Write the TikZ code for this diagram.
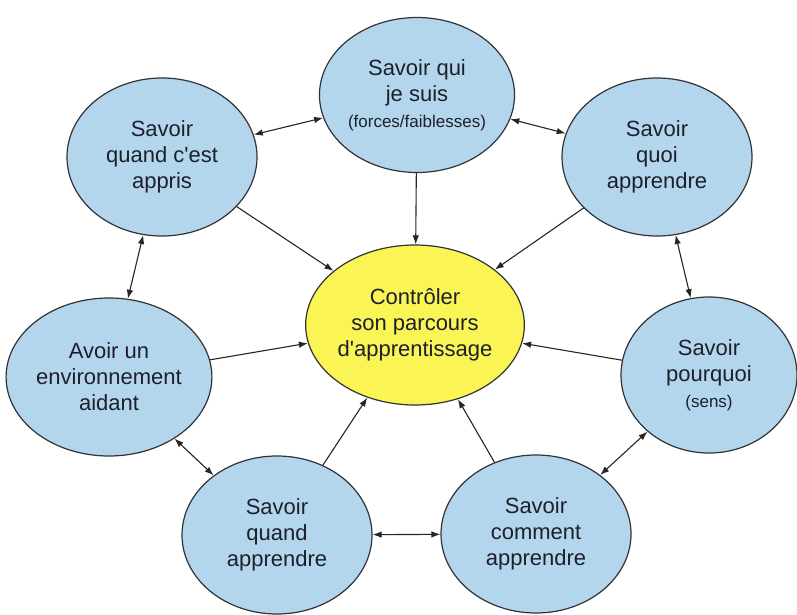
\documentclass[tikz,border=0pt]{standalone}
\usepackage{fontspec}
\setmainfont{Liberation Sans}
\usetikzlibrary{shapes.geometric,arrows.meta}
\definecolor{bluefill}{RGB}{180,214,236}
\definecolor{yellowfill}{RGB}{250,244,84}
\definecolor{edgegray}{RGB}{50,50,55}
\definecolor{txt}{RGB}{28,32,45}
\begin{document}
\begin{tikzpicture}[x=1pt,y=-1pt,
  bub/.style={ellipse,draw=edgegray,line width=1.2pt,fill=bluefill,inner sep=0pt,
    align=center,text=txt,font=\fontsize{22}{26}\selectfont,
    minimum width=190pt,minimum height=158pt},
  hub/.style={bub,fill=yellowfill,minimum width=206pt,minimum height=160pt},
  conn/.style={-{Latex[length=9pt,width=6.5pt]},line width=1.1pt,draw=black!85},
  dbl/.style={{Latex[length=9pt,width=6.5pt]}-{Latex[length=9pt,width=6.5pt]},line width=1.1pt,draw=black!85}]
\useasboundingbox (0,0) rectangle (797,615);
\fill[white] (0,0) rectangle (797,615);

\node[hub] (c) at (415,325) {Contrôler\\son parcours\\d\textquotesingle apprentissage};
\node[bub,minimum width=191pt,minimum height=155pt] (top) at (417,95) {Savoir qui\\je suis\\{\fontsize{17}{18}\selectfont (forces/faiblesses)}};
\node[bub] (tl) at (162,157) {Savoir\\quand c\textquotesingle est\\appris};
\node[bub] (tr) at (657,157) {Savoir\\quoi\\apprendre};
\node[bub,minimum width=176pt,minimum height=156pt] (r) at (709,375) {Savoir\\pourquoi\\{\fontsize{17}{18}\selectfont (sens)}};
\node[bub,minimum width=202pt] (l) at (109,377) {Avoir un\\environnement\\aidant};
\node[bub] (bl) at (277,535) {Savoir\\quand\\apprendre};
\node[bub] (br) at (536,534) {Savoir\\comment\\apprendre};

\draw[conn] (top) -- (c);
\draw[conn] (tl) -- (c);
\draw[conn] (tr) -- (c);
\draw[conn] (l) -- (c);
\draw[conn] (r) -- (c);
\draw[conn] (bl) -- (c);
\draw[conn] (br) -- (c);

\draw[dbl] (tl) -- (top);
\draw[dbl] (top) -- (tr);
\draw[dbl] (tr) -- (r);
\draw[dbl] (r) -- (br);
\draw[dbl] (bl) -- (br);
\draw[dbl] (l) -- (bl);
\draw[dbl] (tl) -- (l);
\end{tikzpicture}
\end{document}
